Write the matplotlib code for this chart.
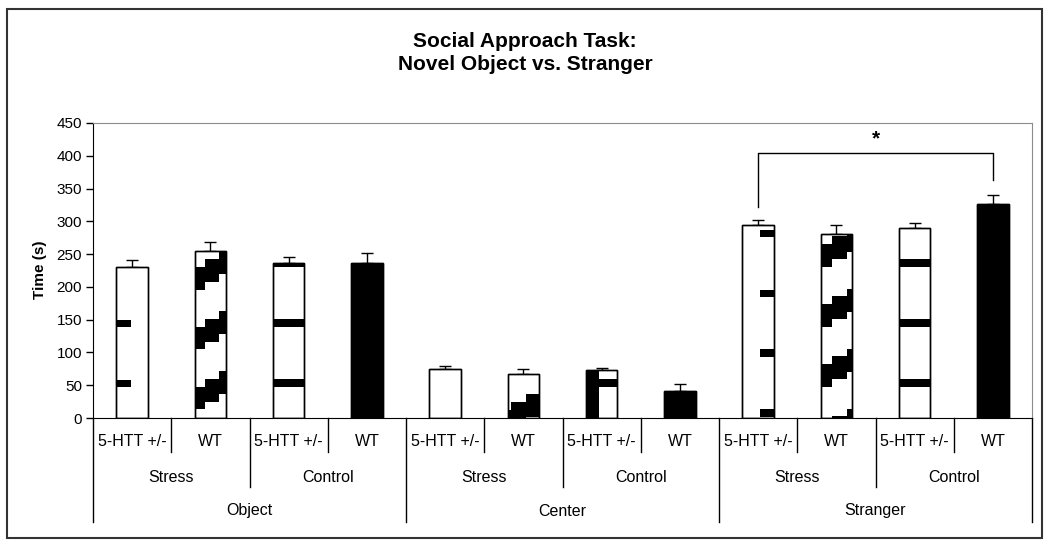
import numpy as np
import matplotlib.pyplot as plt
from matplotlib.patches import Rectangle

plt.rcParams['font.family'] = ['Liberation Sans', 'DejaVu Sans']

locations = ["Object", "Center", "Stranger"]
conditions = ["Stress", "Control"]
genotypes = ["5-HTT +/-", "WT"]

# mean time (s), ordered location -> condition -> genotype
times = [231, 255, 237, 237,
         74, 67, 73, 41,
         294, 280, 290, 327]
sem = [10, 14, 8, 14,
       6, 8, 4, 11,
       8, 14, 8, 13]

sig_pair = (8, 11)
sig_label = "*"

n = len(times)
x = np.arange(n)

# Excel-style fill patterns; the tile is anchored to the page, so it looks
# different in each location block
period = 91.5
dash_style = [("left", 47), None, ("right", 2)]
stair_style = [([0, 0.33, 0.79, 1], 13, 11.5),
               ([0, 0.10, 0.59, 1], -22.5, 12),
               ([0, 0.37, 0.85, 1], 48, 11.3)]
stripe_style = [0, 0.41, 0]

fig = plt.figure(figsize=(10.5, 5.5), dpi=100)
ax = fig.add_axes([93 / 1050, 132 / 550, 939 / 1050, 295 / 550])

bars = ax.bar(x, times, width=0.40, color="white", edgecolor="black", linewidth=1, zorder=2)
ax.errorbar(x, times, yerr=[np.zeros(n), sem], fmt="none", ecolor="black",
            elinewidth=1, capsize=4.5, capthick=1, zorder=1)


def add_blocks(bar, blocks):
    x0, w = bar.get_x(), bar.get_width()
    for fx0, fx1, y0, h in blocks:
        r = Rectangle((x0 + fx0 * w, y0), (fx1 - fx0) * w, h, facecolor="black",
                      edgecolor="none", zorder=3)
        ax.add_patch(r)
        r.set_clip_path(bar)


for i, bar in enumerate(bars):
    kind = i % 4
    loc = i // 4
    top = bar.get_height()
    blocks = []
    if kind == 0:
        st = dash_style[loc]
        if st is not None:
            side, y0 = st
            fx = (0.0, 0.48) if side == "left" else (0.55, 1.0)
            for k in range(6):
                blocks.append((fx[0], fx[1], y0 + k * period, 11))
    elif kind == 1:
        splits, base, shift = stair_style[loc]
        for k in range(-1, 6):
            for c in range(3):
                blocks.append((splits[c], splits[c + 1], base + k * period + c * shift, 35))
    elif kind == 2:
        for k in range(6):
            blocks.append((0.0, 1.0, 48 + k * period, 11))
        if stripe_style[loc] > 0:
            blocks.append((0.0, stripe_style[loc], 0, top))
    else:
        blocks.append((0.0, 1.0, 0, top))
    add_blocks(bar, blocks)
    ax.add_patch(Rectangle((bar.get_x(), 0), bar.get_width(), top, facecolor="none",
                           edgecolor="black", linewidth=1, zorder=4))

# significance bracket
a, b = sig_pair
top_y = 404
ax.plot([a, a, b, b], [times[a] + sem[a] + 20, top_y, top_y, times[b] + sem[b] + 23],
        color="black", linewidth=1, zorder=5)
ax.text((a + b) / 2, top_y + 7, sig_label, ha="center", va="bottom", fontsize=15,
        fontweight="bold")

ax.set_xlim(-0.5, n - 0.5)
ax.set_ylim(0, 450)
ax.set_yticks(np.arange(0, 451, 50))
ax.tick_params(axis="y", direction="out", length=5, width=1, labelsize=11, pad=3)
ax.set_xticks([])
for s in ["top", "right"]:
    ax.spines[s].set_color("#8c8c8c")
ax.spines["left"].set_color("black")
ax.spines["bottom"].set_color("black")

# hierarchical category axis
trans = ax.get_xaxis_transform()


def px(p):
    return (418 - p) / 295


for i in range(n):
    ax.text(i, px(442), genotypes[i % 2], transform=trans, ha="center", va="center",
            fontsize=11.5)
for j in range(n // 2):
    ax.text(2 * j + 0.5, px(477), conditions[j % 2], transform=trans, ha="center",
            va="center", fontsize=11.5)
for j in range(n // 4):
    ax.text(4 * j + 1.5, px(511), locations[j], transform=trans, ha="center",
            va="center", fontsize=11.5)

for k in range(n + 1):
    xb = k - 0.5
    if k % 4 == 0:
        ybot = px(522)
    elif k % 2 == 0:
        ybot = px(487)
    else:
        ybot = px(452)
    ax.plot([xb, xb], [0, ybot], transform=trans, color="black", linewidth=1, clip_on=False)

fig.text(40 / 1050, 1 - 270 / 550, "Time (s)", rotation=90, ha="center", va="center",
         fontsize=11, fontweight="bold")

fig.text(0.5, 1 - 47 / 550, "Social Approach Task:", ha="center", va="baseline",
         fontsize=15, fontweight="bold")
fig.text(0.5, 1 - 70 / 550, "Novel Object vs. Stranger", ha="center", va="baseline",
         fontsize=15, fontweight="bold")

fig.add_artist(Rectangle((7 / 1050, 12 / 550), 1035 / 1050, 529 / 550,
                         transform=fig.transFigure, facecolor="none", edgecolor="#333333",
                         linewidth=1.5))

fig.savefig("out.png", dpi=100)
